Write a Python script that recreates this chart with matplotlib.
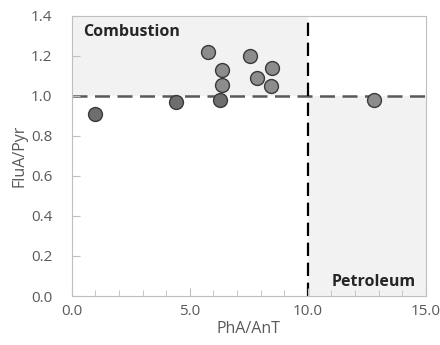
"""FluA/Pyr vs PhA/AnT diagnostic ratio plot."""
import matplotlib
matplotlib.use('Agg')
import matplotlib.pyplot as plt
from matplotlib.ticker import MultipleLocator, FormatStrFormatter

plt.rcParams['font.family'] = ['Open Sans', 'DejaVu Sans']

# data
pha_ant = [0.98, 4.41, 5.79, 6.35, 6.35, 6.27, 7.55, 7.83, 8.49, 8.46, 12.81]
flua_pyr = [0.91, 0.968, 1.217, 1.127, 1.055, 0.978, 1.197, 1.09, 1.138, 1.05, 0.978]
dark = [True, True, False, False, False, True, False, False, False, False, False]

x_thr = 10.0
y_thr = 1.0

fig = plt.figure(figsize=(4.4, 3.45), dpi=100)
ax = fig.add_axes([0.163, 0.142, 0.805, 0.8125])

ax.set_xlim(0, 15)
ax.set_ylim(0, 1.4)

# shaded source regions
ax.fill_between([0, x_thr], y_thr, 1.4, color='#f2f2f2', zorder=0, lw=0)
ax.fill_between([x_thr, 15], 0, y_thr, color='#f2f2f2', zorder=0, lw=0)

ax.axhline(y_thr, color='#595959', lw=1.8, ls=(0, (6, 3)), zorder=1)
ax.axvline(x_thr, color='black', lw=1.6, ls=(0, (6, 3)), zorder=1)

for x, y, d in zip(pha_ant, flua_pyr, dark):
    ax.plot(x, y, 'o', ms=10, mfc='#6e6e6e' if d else '#8c8c8c',
            mec='#3a3a3a', mew=1.0, zorder=3)

ax.text(0.47, 1.32, 'Combustion', fontsize=11.5, fontweight='bold',
        color='#262626', va='center', ha='left')
ax.text(11.0, 0.07, 'Petroleum', fontsize=11.5, fontweight='bold',
        color='#262626', va='center', ha='left')

ax.xaxis.set_major_locator(MultipleLocator(5))
ax.xaxis.set_minor_locator(MultipleLocator(1))
ax.yaxis.set_major_locator(MultipleLocator(0.2))
ax.xaxis.set_major_formatter(FormatStrFormatter('%.1f'))
ax.yaxis.set_major_formatter(FormatStrFormatter('%.1f'))
ax.tick_params(which='both', direction='in', color='#bfbfbf', labelcolor='#595959',
               labelsize=11)
ax.tick_params(which='major', length=6)
ax.tick_params(which='minor', length=4)
ax.tick_params(axis='x', pad=6)
ax.tick_params(axis='y', pad=14)
for s in ax.spines.values():
    s.set_color('#bfbfbf')

ax.set_xlabel('PhA/AnT', fontsize=11.5, color='#595959', labelpad=1)
ax.set_ylabel('FluA/Pyr', fontsize=11.5, color='#595959', labelpad=2)

plt.savefig('out.png', dpi=100)
plt.close()
